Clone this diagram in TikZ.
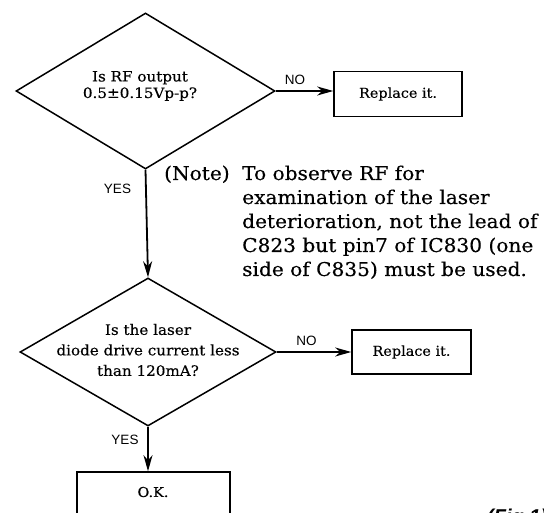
\documentclass[tikz,border=0pt]{standalone}
\usepackage{fontspec}
\setmainfont[FakeStretch=1.06,FakeBold=0.3]{DejaVu Serif}
\newfontfamily\lblfont{Liberation Sans}
\usetikzlibrary{shapes.geometric,arrows.meta}
\begin{document}
\begin{tikzpicture}[x=1pt,y=-1pt,
  decision/.style={diamond,draw,line width=1.5pt,inner sep=0pt},
  actbox/.style={rectangle,draw,line width=1.6pt,inner sep=0pt},
  qtext/.style={align=center,inner sep=0pt},
  btext/.style={font=\fontsize{13.6}{16}\selectfont,inner sep=0pt},
  lbl/.style={font=\lblfont\fontsize{13.5}{15}\selectfont,inner sep=0pt},
  notefont/.style={font=\fontsize{19}{24}\selectfont,inner sep=0pt},
  flow/.style={line width=1.8pt,-{Stealth[length=16pt,width=9pt,inset=5pt]}}]
\useasboundingbox (0,0) rectangle (544,513);
% decisions
\node[decision,minimum width=259pt,minimum height=156pt] (d1) at (145.5,91) {};
\node[qtext,font=\fontsize{14.3}{16.5}\selectfont] (q1) at (140,86) {Is RF output\\0.5±0.15Vp-p?};
\node[decision,minimum width=256pt,minimum height=148pt] (d2) at (148,352) {};
\node[qtext,font=\fontsize{14.3}{20.5}\selectfont] (q2) at (148,350) {Is the laser\\diode drive current less\\than 120mA?};
% boxes
\node[actbox,minimum width=128pt,minimum height=45pt] (r1) at (398,94) {};
\node[btext] (r1t) at (r1.center) {Replace it.};
\node[actbox,minimum width=119pt,minimum height=44pt] (r2) at (411.5,352) {};
\node[btext] (r2t) at (r2.center) {Replace it.};
\node[actbox,minimum width=153pt,minimum height=46pt] (ok) at (153.5,495) {};
\node[btext] (okt) at (153,492) {O.K.};
% connectors
\draw[flow] (d1.east) -- (d1.east -| r1.west);
\draw[flow] (d2.east) -- (d2.east -| r2.west);
\draw[flow] (d1.south) -- (d2.north);
\draw[flow] (d2.south) -- (d2.south |- ok.north);
% labels
\node[lbl] (no1) at (295,80) {NO};
\node[lbl] (no2) at (306.5,341) {NO};
\node[lbl] (yes1) at (117.5,189) {YES};
\node[lbl] (yes2) at (125,440) {YES};
% note
\node[notefont,anchor=base west] (note) at (164,180) {(Note)};
\node[notefont,anchor=base west,align=left] (notetext) at (242,276)
  {To observe RF for\\examination of the laser\\deterioration, not the lead of\\C823 but pin7 of IC830 (one\\side of C835) must be used.};
\node[font=\lblfont\bfseries\itshape\fontsize{20}{22}\selectfont,inner sep=0pt,anchor=base west] (fig) at (487,523) {(Fig.1)};
\end{tikzpicture}
\end{document}
